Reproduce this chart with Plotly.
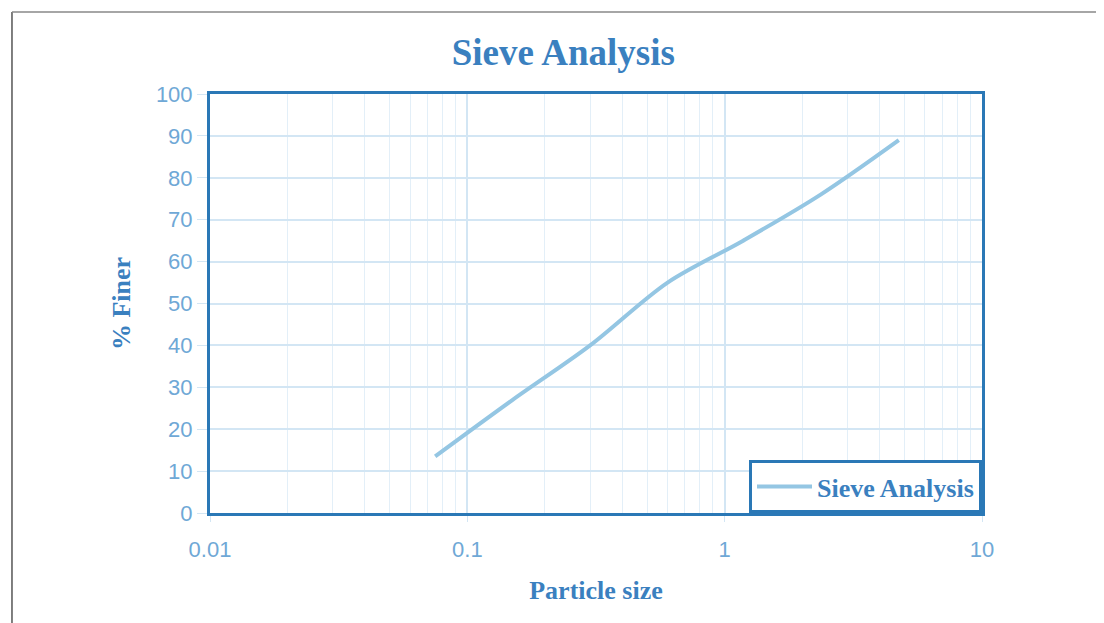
import plotly.graph_objects as go

# Data
particle_size = [0.075, 0.15, 0.3, 0.6, 1.18, 2.36, 4.75]
percent_finer = [13.5, 27, 40, 55, 65, 76, 89]
series_name = "Sieve Analysis"
x_tick_vals = [0.01, 0.1, 1, 10]
x_tick_text = ["0.01", "0.1", "1", "10"]
y_tick_vals = [0, 10, 20, 30, 40, 50, 60, 70, 80, 90, 100]

minor_vals = [m * d for d in [0.01, 0.1, 1] for m in range(2, 10)]

title_col = "#3a80bf"
tick_col = "#6fa8d6"
border_col = "#2a78b6"
grid_col = "#d3e6f4"
line_col = "#94c6e3"
serif = "Liberation Serif"
sans = "Liberation Sans"

fig = go.Figure()
fig.add_trace(go.Scatter(
    x=particle_size, y=percent_finer, mode="lines", name="<b>" + series_name + "</b>",
    line=dict(color=line_col, width=4, shape="spline", smoothing=0.9),
))

fig.update_layout(
    width=1104, height=623,
    margin=dict(l=202, r=130, t=86, b=118),
    paper_bgcolor="white", plot_bgcolor="white",
    title=dict(text="<b>Sieve Analysis</b>", x=0.503, xanchor="center",
               y=0.929, yanchor="middle",
               font=dict(family=serif, size=37, color=title_col)),
    showlegend=True,
    legend=dict(x=1, y=0, xanchor="right", yanchor="bottom",
                bordercolor=border_col, borderwidth=3, bgcolor="white",
                font=dict(family=serif, size=26, color=title_col),
                itemwidth=55, entrywidth=190, tracegroupgap=0),
)

fig.update_xaxes(
    type="log", range=[-2, 1],
    tickvals=x_tick_vals, ticktext=x_tick_text,
    tickfont=dict(family=sans, size=22, color=tick_col),
    showgrid=True, gridcolor=grid_col, gridwidth=1.5,
    minor=dict(tickvals=minor_vals, showgrid=True, gridcolor="#e3eff8", gridwidth=1),
    showline=True, linecolor=border_col, linewidth=3, mirror=True,
    ticks="outside", ticklen=6, tickcolor=grid_col, ticklabelstandoff=9,
    title=dict(text="<b>Particle size</b>", standoff=20,
               font=dict(family=serif, size=26, color=title_col)),
    zeroline=False,
)
fig.update_yaxes(
    range=[0, 100], tickvals=y_tick_vals,
    tickfont=dict(family=sans, size=22, color=tick_col),
    showgrid=True, gridcolor=grid_col, gridwidth=1.5,
    showline=True, linecolor=border_col, linewidth=3, mirror=True,
    ticks="outside", ticklen=10, tickcolor=grid_col,
    title=dict(text="<b>% Finer</b>", standoff=18,
               font=dict(family=serif, size=26, color=title_col)),
    zeroline=False,
)

# thin outer frame of the scanned chart (left and top edges)
fig.add_shape(type="line", xref="paper", yref="paper",
              x0=-0.2565, x1=-0.2565, y0=-0.35, y1=1.196,
              line=dict(color="#555555", width=1.5))
fig.add_shape(type="line", xref="paper", yref="paper",
              x0=-0.2565, x1=1.17, y0=1.196, y1=1.196,
              line=dict(color="#888888", width=1.5))

fig.write_html("out.html")
